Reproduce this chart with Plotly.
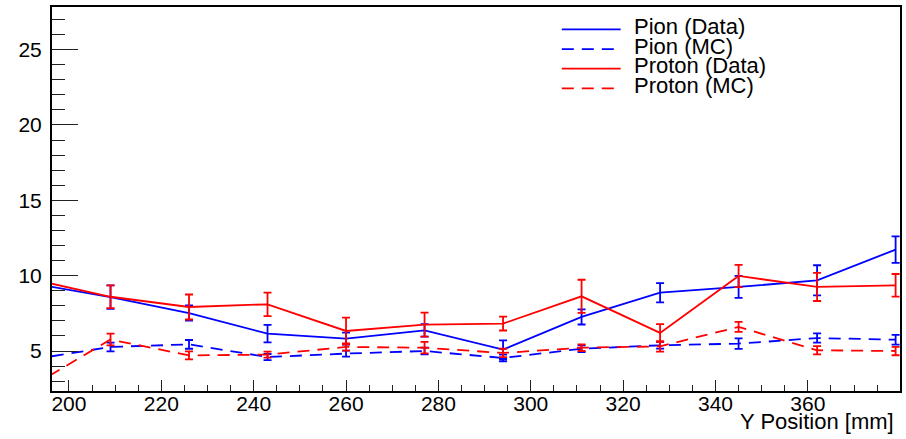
import plotly.graph_objects as go

# ---- data ----
y_pos = [192, 209, 226, 243, 260, 277, 294, 311, 328, 345, 362, 379]

pion_data = [9.48, 8.58, 7.52, 6.15, 5.82, 6.37, 5.09, 7.26, 8.87, 9.25, 9.69, 11.73]
pion_data_err = [0.75, 0.78, 0.50, 0.58, 0.40, 0.42, 0.62, 0.50, 0.64, 0.73, 1.00, 0.88]

pion_mc = [4.44, 5.27, 5.44, 4.60, 4.83, 5.00, 4.54, 5.15, 5.38, 5.49, 5.86, 5.75]
pion_mc_err = [0.25, 0.29, 0.29, 0.20, 0.20, 0.22, 0.22, 0.22, 0.22, 0.35, 0.31, 0.32]

proton_data = [9.76, 8.60, 7.92, 8.10, 6.33, 6.75, 6.82, 8.63, 6.20, 9.98, 9.25, 9.36]
proton_data_err = [0.75, 0.75, 0.83, 0.78, 0.88, 0.80, 0.46, 1.10, 0.59, 0.74, 0.93, 0.75]

proton_mc = [2.67, 5.76, 4.71, 4.76, 5.27, 5.22, 4.87, 5.22, 5.31, 6.60, 5.05, 5.00]
proton_mc_err = [0.30, 0.39, 0.27, 0.20, 0.24, 0.38, 0.28, 0.22, 0.35, 0.33, 0.28, 0.28]

legend_labels = ["Pion (Data)", "Pion (MC)", "Proton (Data)", "Proton (MC)"]
x_title = "Y Position [mm]"
x_ticks = [200, 220, 240, 260, 280, 300, 320, 340, 360]
y_ticks = [5, 10, 15, 20, 25]

BLUE = "#0000ff"
RED = "#ff0000"
FONT = "Liberation Sans, Arial, sans-serif"
DASH = "12px,8px"

series = [
    (pion_data, pion_data_err, BLUE, "solid"),
    (pion_mc, pion_mc_err, BLUE, DASH),
    (proton_data, proton_data_err, RED, "solid"),
    (proton_mc, proton_mc_err, RED, DASH),
]

fig = go.Figure()
for (vals, errs, col, dash), name in zip(series, legend_labels):
    fig.add_trace(go.Scatter(
        x=y_pos, y=vals, name=name, mode="lines",
        line=dict(color=col, width=1.8, dash=dash),
        error_y=dict(type="data", array=errs, visible=True,
                     color=col, thickness=1.8, width=4),
        showlegend=False,
    ))

W, H = 906, 439
ML, MR, MT, MB = 52, 4, 7, 48.3
PW, PH = W - ML - MR, H - MT - MB

def px_to_paper_x(px):
    return (px - ML) / PW

def px_to_paper_y(py):
    return 1 - (py - MT) / PH

# manual ROOT-style legend
line_y = [29.3, 49.0, 68.6, 88.3]
text_y = [26.6, 46.2, 65.8, 85.4]
shapes = []
annotations = []
for i, ((vals, errs, col, dash), name) in enumerate(zip(series, legend_labels)):
    shapes.append(dict(type="line", xref="paper", yref="paper",
                       x0=px_to_paper_x(563), x1=px_to_paper_x(622),
                       y0=px_to_paper_y(line_y[i]), y1=px_to_paper_y(line_y[i]),
                       line=dict(color=col, width=1.8, dash=dash)))
    annotations.append(dict(text=name, xref="paper", yref="paper",
                            x=px_to_paper_x(633), y=px_to_paper_y(text_y[i]),
                            xanchor="left", yanchor="middle", showarrow=False,
                            font=dict(family=FONT, size=22, color="black")))

annotations.append(dict(text=x_title, xref="paper", yref="paper",
                        x=px_to_paper_x(898), y=px_to_paper_y(421.5),
                        xanchor="right", yanchor="middle", showarrow=False,
                        font=dict(family=FONT, size=22, color="black")))

fig.update_layout(
    width=W, height=H,
    margin=dict(l=ML, r=MR, t=MT, b=MB, pad=0),
    plot_bgcolor="white", paper_bgcolor="white",
    font=dict(family=FONT, size=21, color="black"),
    shapes=shapes, annotations=annotations,
    showlegend=False,
)
fig.update_xaxes(
    range=[196.33, 379.95], showgrid=False, zeroline=False,
    showline=True, linecolor="black", linewidth=2, mirror=True,
    ticks="inside", ticklen=11, tickwidth=1.3, tickcolor="#222",
    tickvals=x_ticks, ticktext=[str(v) for v in x_ticks],
    ticklabelstandoff=-7,
    minor=dict(ticks="inside", ticklen=6, tickwidth=1.3, tickcolor="#222",
               dtick=5, tick0=0, showgrid=False),
)
fig.update_yaxes(
    range=[2.346, 27.83], showgrid=False, zeroline=False,
    showline=True, linecolor="black", linewidth=2, mirror=True,
    ticks="inside", ticklen=26, tickwidth=1.3, tickcolor="#222",
    tickvals=y_ticks, ticktext=[str(v) for v in y_ticks],
    ticklabelstandoff=4,
    minor=dict(ticks="inside", ticklen=13, tickwidth=1.3, tickcolor="#222",
               dtick=1, tick0=0, showgrid=False),
)

fig.write_html("out.html")
